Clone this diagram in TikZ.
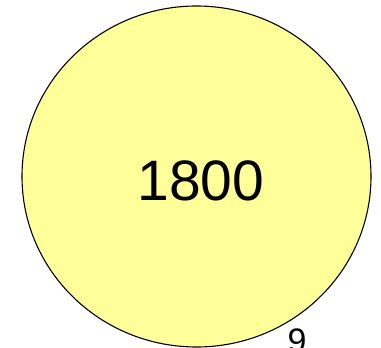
\documentclass[tikz,border=0pt]{standalone}
\usepackage{fontspec}
\setmainfont{Liberation Sans}
\usepackage{xcolor}
\usetikzlibrary{shapes.geometric, positioning, calc}
\definecolor{bubblefill}{RGB}{255,255,153}

\begin{document}
\begin{tikzpicture}[
  x=1pt, y=-1pt,
  bubble/.style={
    draw,
    ellipse,
    line width=1.1pt,
    fill=bubblefill,
    minimum width=349pt,
    minimum height=341pt,
    inner sep=0pt
  },
  count/.style={font=\fontsize{57}{60}\selectfont, inner sep=0pt},
  tag/.style={font=\fontsize{34}{36}\selectfont, inner sep=0pt, anchor=north}
]
\useasboundingbox (0,0) rectangle (381,348);

\node[bubble] (b) at (196.5,176.5) {};
\node[count] (n) at (201,181) {1800};

% value tag below the bubble, cut off by the page edge
\node[tag] (t) at (297,329) {9};

\end{tikzpicture}
\end{document}
